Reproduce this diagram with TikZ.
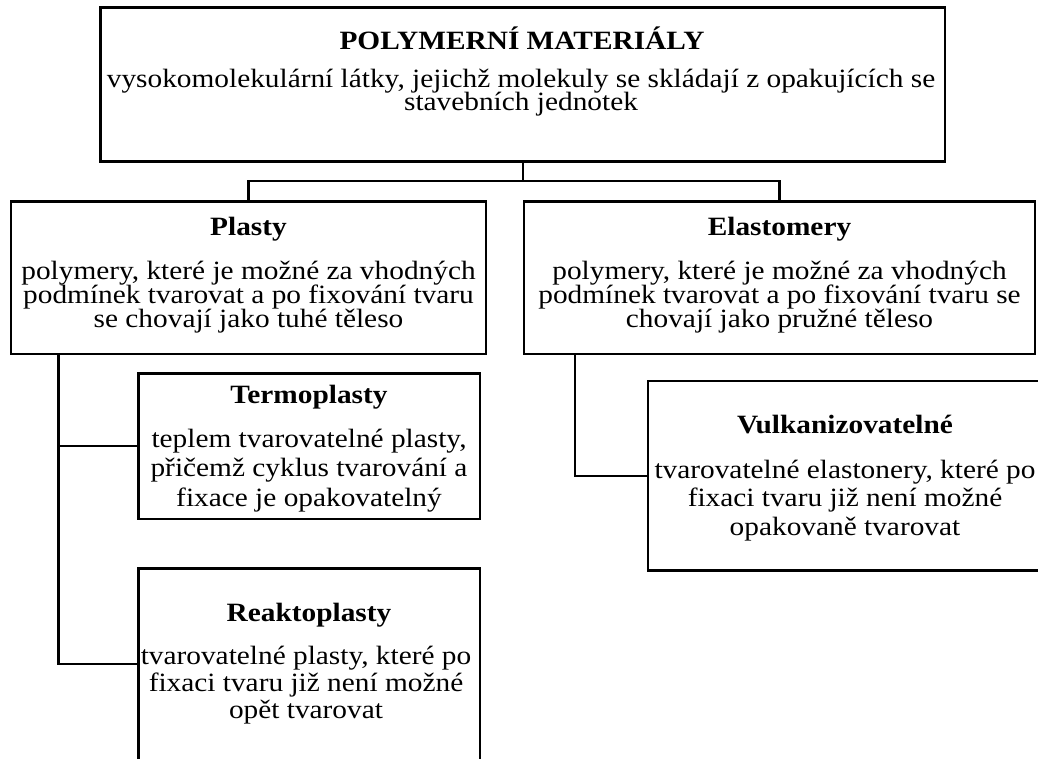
\documentclass[tikz,border=0pt]{standalone}
\usepackage{fontspec}
\setmainfont{Liberation Serif}[FakeStretch=1.111]
\newcommand\pxu{0.409pt}
\newcommand\tightlines{\lineskiplimit-20pt\relax}
\tikzset{
  box/.style={draw=black, line width=1pt, rectangle, inner sep=0pt, outer sep=0pt},
  link/.style={draw=black, line width=1pt, line join=miter},
  head/.style={anchor=base, font=\fontsize{10.8}{13}\selectfont\bfseries},
  desc/.style={anchor=base, align=center, font=\fontsize{10.8}{#1}\selectfont\tightlines},
}
\begin{document}
\begin{tikzpicture}[y=0.409pt, x=0.409pt, yscale=-1, inner sep=0pt, outer sep=0pt]
\clip (0,0) rectangle (1038,758);
\node[box, minimum width=844.5*\pxu, minimum height=154*\pxu] (polymer) at (522.75,84.5) {};
\node[box, minimum width=475*\pxu, minimum height=152.5*\pxu] (plasty) at (248.5,277.75) {};
\node[box, minimum width=511*\pxu, minimum height=152.5*\pxu] (elast) at (779.5,277.75) {};
\node[box, minimum width=341.5*\pxu, minimum height=145.5*\pxu] (termo) at (309.25,446.25) {};
\node[box, minimum width=341.5*\pxu, minimum height=191.5*\pxu] (reakto) at (309.25,664.25) {};
\node[box, minimum width=394*\pxu, minimum height=189.5*\pxu] (vulk) at (845,475.75) {};

\node[head] (polymerTitle) at (522,50) {POLYMERNÍ MATERIÁLY};
\node[desc=9.4pt] (polymerText) at (521,110.5)
  {vysokomolekulární látky, jejichž molekuly se skládají z opakujících se\\stavebních jednotek};
\node[head] (plastyTitle) at (248.5,235) {Plasty};
\node[desc=9.8pt] (plastyText) at (248.5,327)
  {polymery, které je možné za vhodných\\podmínek tvarovat a po fixování tvaru\\se chovají jako tuhé těleso};
\node[head] (elastTitle) at (779.5,235.5) {Elastomery};
\node[desc=9.8pt] (elastText) at (779.5,327)
  {polymery, které je možné za vhodných\\podmínek tvarovat a po fixování tvaru se\\chovají jako pružné těleso};
\node[head] (termoTitle) at (309,403) {Termoplasty};
\node[desc=12.2pt] (termoText) at (309,506.7)
  {teplem tvarovatelné plasty,\\přičemž cyklus tvarování a\\fixace je opakovatelný};
\node[head] (reaktoTitle) at (309,621.7) {Reaktoplasty};
\node[desc=11pt] (reaktoText) at (306,718)
  {tvarovatelné plasty, které po\\fixaci tvaru již není možné\\opět tvarovat};
\node[head] (vulkTitle) at (845,433) {Vulkanizovatelné};
\node[desc=11.6pt] (vulkText) at (845,535)
  {tvarovatelné elastonery, které po\\fixaci tvaru již není možné\\opakovaně tvarovat};

\coordinate (bus) at (522.75,181);
\coordinate (stemP) at (58.5,0);
\coordinate (stemE) at (575,0);
\draw[link] (polymer.south) -- (bus);
\draw[link] (plasty.north) |- (bus) -| (elast.north);
\draw[link] (plasty.south -| stemP) |- (termo.west);
\draw[link] (plasty.south -| stemP) |- (reakto.west);
\draw[link] (elast.south -| stemE) |- (vulk.west);
\end{tikzpicture}
\end{document}
